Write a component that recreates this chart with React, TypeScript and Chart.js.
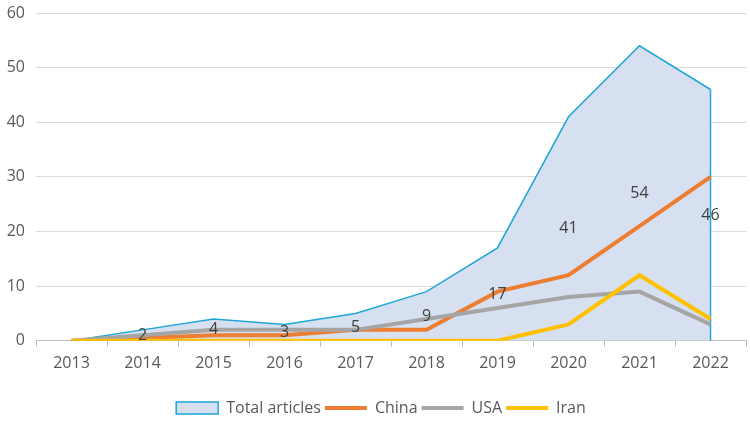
import { Chart, registerables } from "chart.js";
import React, { useEffect, useRef } from "react";

Chart.register(...registerables);

const years = ["2013", "2014", "2015", "2016", "2017", "2018", "2019", "2020", "2021", "2022"];
const totalArticles = [0, 2, 4, 3, 5, 9, 17, 41, 54, 46];
const china = [0, 0.5, 1, 1, 2, 2, 9, 12, 21, 30];
const usa = [0, 1, 2, 2, 2, 4, 6, 8, 9, 3];
const iran = [0, 0, 0, 0, 0, 0, 0, 3, 12, 4];

const FONT = "'Open Sans', sans-serif";
const TEXT = "#595959";

// labels sit in the middle of the area, the way the spreadsheet put them
const areaLabels = {
  id: "areaLabels",
  afterLayout(chart: any) {
    // legend sits a little right of centre in the original
    if (chart.legend) {
      chart.legend.left += 8;
      chart.legend.right += 8;
    }
  },
  afterDatasetDraw(chart: any, args: any) {
    if (args.index !== 0) return;
    const meta = chart.getDatasetMeta(0);
    const last = meta.data[meta.data.length - 1];
    const y0 = chart.scales.y.getPixelForValue(0);
    const ctx = chart.ctx;
    ctx.save();
    ctx.strokeStyle = "#1ea7d6";
    ctx.lineWidth = 1.5;
    ctx.beginPath();
    ctx.moveTo(last.x, last.y);
    ctx.lineTo(last.x, y0);
    ctx.stroke();
    ctx.restore();
  },
  afterDatasetsDraw(chart: any) {
    const ctx = chart.ctx;
    const meta = chart.getDatasetMeta(0);
    ctx.save();
    ctx.font = `16px ${FONT}`;
    ctx.fillStyle = "#404040";
    ctx.textAlign = "center";
    ctx.textBaseline = "middle";
    totalArticles.forEach((v, i) => {
      if (!v) return;
      const x = meta.data[i].x;
      const y = chart.scales.y.getPixelForValue(v / 2);
      ctx.fillText(String(v), x, y);
    });
    ctx.restore();
  },
};

const App = () => {
  const canvasRef = useRef<HTMLCanvasElement>(null);

  useEffect(() => {
    if (!canvasRef.current) return;
    const chart = new Chart(canvasRef.current, {
      type: "line",
      data: {
        labels: years,
        datasets: [
          {
            label: "Total articles",
            data: totalArticles,
            borderColor: "#1ea7d6",
            backgroundColor: "#d6e0f1",
            borderWidth: 1.5,
            fill: "origin",
            pointRadius: 0,
            order: 4,
            pointStyle: "rect",
          },
          {
            label: "China",
            data: china,
            borderColor: "#ed7d31",
            backgroundColor: "#ed7d31",
            borderWidth: 4,
            pointRadius: 0,
            order: 3,
            pointStyle: "line",
          },
          {
            label: "USA",
            data: usa,
            borderColor: "#a5a5a5",
            backgroundColor: "#a5a5a5",
            borderWidth: 4,
            pointRadius: 0,
            order: 2,
            pointStyle: "line",
          },
          {
            label: "Iran",
            data: iran,
            borderColor: "#ffc000",
            backgroundColor: "#ffc000",
            borderWidth: 4,
            pointRadius: 0,
            order: 1,
            pointStyle: "line",
          },
        ],
      },
      options: {
        animation: false,
        responsive: false,
        layout: { padding: { top: 0, right: 4, left: 0, bottom: -3 } },
        scales: {
          x: {
            offset: true,
            grid: {
              offset: true,
              drawOnChartArea: false,
              drawTicks: true,
              tickLength: 6,
              color: "#bfbfbf",
            },
            border: { display: true, color: "#bfbfbf" },
            ticks: { color: TEXT, font: { family: FONT, size: 16 }, padding: 7 },
            afterFit: (scale: any) => {
              scale.height += 16;
            },
          },
          y: {
            min: 0,
            max: 60,
            ticks: {
              stepSize: 10,
              color: TEXT,
              font: { family: FONT, size: 16, lineHeight: 0.25 },
              padding: 11,
            },
            grid: { color: "#d9d9d9", drawTicks: false },
            border: { display: false },
            afterFit: (scale: any) => {
              scale.width = 36;
            },
          },
        },
        plugins: {
          tooltip: { enabled: false },
          legend: {
            position: "bottom",
            labels: {
              usePointStyle: true,
              pointStyleWidth: 42,
              boxHeight: 12,
              padding: 4,
              color: TEXT,
              font: { family: FONT, size: 16 },
              sort: (a: any, b: any) => a.datasetIndex - b.datasetIndex,
            },
          },
        },
      },
      plugins: [areaLabels],
    });
    return () => chart.destroy();
  }, []);

  return (
    <div style={{ position: "absolute", left: 0, top: 0, width: 750, height: 423 }}>
      <canvas ref={canvasRef} width={750} height={423}></canvas>
    </div>
  );
};

export default App;
